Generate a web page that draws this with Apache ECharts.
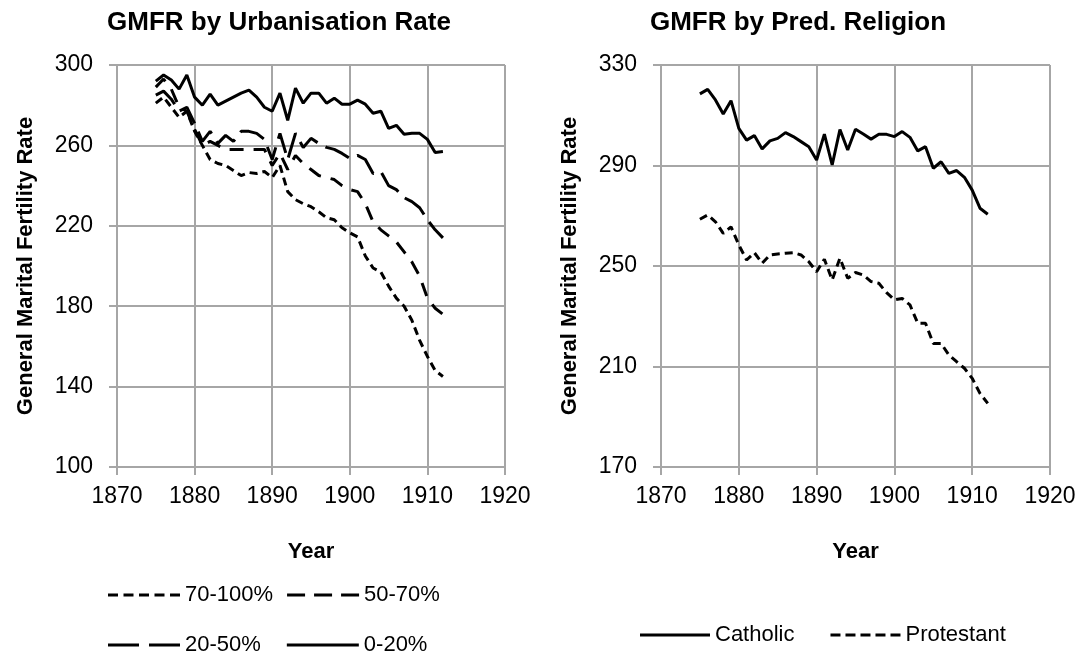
<!DOCTYPE html>
<html>
<head>
<meta charset="utf-8">
<title>GMFR</title>
<script src="https://cdn.jsdelivr.net/npm/echarts@6/dist/echarts.min.js"></script>
<style>
  html, body { margin: 0; padding: 0; background: #fff; }
  #chart { width: 1083px; height: 651px; }
</style>
</head>
<body>
<div id="chart"></div>
<script>
  // years shared by both panels
  var years = [1875, 1876, 1877, 1878, 1879, 1880, 1881, 1882, 1883, 1884,
    1885, 1886, 1887, 1888, 1889, 1890, 1891, 1892, 1893, 1894,
    1895, 1896, 1897, 1898, 1899, 1900, 1901, 1902, 1903, 1904,
    1905, 1906, 1907, 1908, 1909, 1910, 1911, 1912];

  // left panel: urbanisation groups
  var urb0_20 = [292, 295, 292.5, 288, 295, 284, 280, 285.5, 280, 282,
    284, 286, 287.5, 284, 279, 277, 286, 272.5, 288.5, 281,
    286, 286, 281, 283.5, 280.5, 280.5, 282.5, 280.5, 276, 277,
    268.5, 270, 265.5, 266, 266, 263, 256.5, 257];
  var urb20_50 = [285, 287, 283, 277, 279, 271, 262, 267, 261, 265,
    262, 267, 267, 266, 263, 253, 266, 253, 266, 259,
    263.5, 261, 259, 258, 256, 253.5, 255, 253, 246, 247,
    240, 238, 234, 232, 229, 223, 218, 214];
  var urb50_70 = [289, 293, 288, 279, 277, 268, 260, 262, 260, 258,
    258, 258, 258, 258, 258, 250, 256, 248, 255, 251,
    248, 245, 244, 243, 240, 238, 237, 231, 222, 218,
    215, 212, 207, 202, 195, 184, 179, 176];
  var urb70_100 = [281, 284, 279, 274, 277, 267, 260, 253, 251, 250,
    247.5, 245, 246.5, 246, 247, 244, 250, 237, 233, 231,
    229.5, 227, 224, 223, 219, 216.5, 214.5, 205, 199, 197,
    190, 184, 180, 173, 163, 155, 148, 145];

  // right panel: predominant religion
  var catholic = [318.5, 320.3, 316.1, 310.5, 315.8, 304.8, 300.1, 301.9, 296.6, 299.8,
    300.8, 303.1, 301.5, 299.5, 297.5, 292.2, 302.5, 290.2, 304.3, 296.2,
    304.4, 302.5, 300.5, 302.4, 302.4, 301.5, 303.5, 301.2, 295.8, 297.5,
    288.9, 291.5, 286.9, 288, 285.3, 280.2, 273, 270.6];
  var protestant = [268.6, 270.3, 267.6, 263, 265.6, 258.4, 252.4, 255.3, 251.1, 254.4,
    254.8, 255.1, 255.3, 254.4, 251.7, 247.7, 252.7, 244.4, 253.1, 245.1,
    247.4, 246.4, 243.8, 243.1, 239.4, 236.5, 237.1, 234.5, 227.2, 227.2,
    219.2, 219.2, 214.6, 211.9, 209.3, 205.3, 199.3, 195.3];

  var xTicks = [1870, 1880, 1890, 1900, 1910, 1920];
  var leftTicks = [100, 140, 180, 220, 260, 300];
  var rightTicks = [170, 210, 250, 290, 330];

  function pairs(vals) {
    var out = [];
    for (var i = 0; i < years.length; i++) {
      out.push([years[i], vals[i]]);
    }
    return out;
  }

  var FONT = 'Liberation Sans, Arial, sans-serif';
  var gridColor = '#a6a6a6';

  // line dash patterns, and the ones used for the legend samples
  var dashes = {
    '70-100%': [8, 5],
    '50-70%': [14, 10],
    '20-50%': [26, 9],
    '0-20%': null,
    'Catholic': null,
    'Protestant': [8, 5]
  };
  var iconDashes = {
    '70-100%': [10, 5.5],
    '50-70%': [18, 9],
    '20-50%': [31, 10],
    '0-20%': null,
    'Catholic': null,
    'Protestant': [10, 5]
  };

  // legend icon: a row of filled dashes in a w x 3 box
  function dashIcon(w, dash) {
    if (!dash) return 'path://M0,0h' + w + 'v3h-' + w + 'z';
    var p = '', x = 0;
    while (x < w - 0.5) {
      var len = Math.min(dash[0], w - x);
      p += 'M' + x + ',0h' + len + 'v3h-' + len + 'z';
      x += dash[0] + dash[1];
    }
    return 'path://' + p;
  }

  function xAxisCfg(gi) {
    return {
      type: 'value', gridIndex: gi,
      min: xTicks[0], max: xTicks[xTicks.length - 1], interval: 10,
      name: 'Year', nameLocation: 'middle', nameGap: 74,
      nameTextStyle: { fontFamily: FONT, fontSize: 22, fontWeight: 'bold', color: '#000' },
      axisLine: { show: true, onZero: false, lineStyle: { color: gridColor, width: 2 } },
      axisTick: { show: true, inside: false, length: 8, lineStyle: { color: gridColor, width: 2 } },
      axisLabel: { fontFamily: FONT, fontSize: 23, color: '#000', margin: 18,
        formatter: function (v) { return String(v); } },
      splitLine: { show: true, lineStyle: { color: gridColor, width: 2 } }
    };
  }

  function yAxisCfg(gi, ticks) {
    return {
      type: 'value', gridIndex: gi,
      min: ticks[0], max: ticks[ticks.length - 1], interval: 40,
      name: 'General Marital Fertility Rate', nameLocation: 'middle', nameGap: 80,
      nameRotate: 90,
      nameTextStyle: { fontFamily: FONT, fontSize: 22, fontWeight: 'bold', color: '#000' },
      axisLine: { show: true, lineStyle: { color: gridColor, width: 2 } },
      axisTick: { show: true, inside: false, length: 8, lineStyle: { color: gridColor, width: 2 } },
      axisLabel: { fontFamily: FONT, fontSize: 23, color: '#000', margin: 24 },
      splitLine: { show: true, lineStyle: { color: gridColor, width: 2 } }
    };
  }

  function lineSeries(name, gi, vals) {
    return {
      name: name, type: 'line', xAxisIndex: gi, yAxisIndex: gi,
      data: pairs(vals), symbol: 'none', showSymbol: false, smooth: false,
      lineStyle: { color: '#000', width: 3, type: dashes[name] || 'solid' },
      itemStyle: { color: '#000' }
    };
  }

  function legendItems(names, w) {
    return names.map(function (n) { return { name: n, icon: dashIcon(w, iconDashes[n]) }; });
  }

  var legendText = { fontFamily: FONT, fontSize: 22, color: '#000' };

  var myChart = echarts.init(document.getElementById('chart'));
  var option = {
    animation: false,
    backgroundColor: '#fff',
    title: [
      { text: 'GMFR by Urbanisation Rate', left: 274, top: 5, textAlign: 'center',
        textStyle: { fontFamily: FONT, fontSize: 26, fontWeight: 'bold', color: '#000' } },
      { text: 'GMFR by Pred. Religion', left: 793, top: 5, textAlign: 'center',
        textStyle: { fontFamily: FONT, fontSize: 26, fontWeight: 'bold', color: '#000' } }
    ],
    grid: [
      { left: 117, top: 65, width: 388, height: 402 },
      { left: 661, top: 65, width: 389, height: 402 }
    ],
    xAxis: [xAxisCfg(0), xAxisCfg(1)],
    yAxis: [yAxisCfg(0, leftTicks), yAxisCfg(1, rightTicks)],
    legend: [
      { data: legendItems(['70-100%', '50-70%'], 72), left: 103, top: 579, itemWidth: 72, itemHeight: 3,
        itemGap: 14, textStyle: legendText, selectedMode: false, itemStyle: { color: '#000' } },
      { data: legendItems(['20-50%', '0-20%'], 72), left: 103, top: 629, itemWidth: 72, itemHeight: 3,
        itemGap: 26, textStyle: legendText, selectedMode: false, itemStyle: { color: '#000' } },
      { data: legendItems(['Catholic', 'Protestant'], 70), left: 635, top: 619, itemWidth: 70, itemHeight: 3,
        itemGap: 36, textStyle: legendText, selectedMode: false, itemStyle: { color: '#000' } }
    ],
    series: [
      lineSeries('70-100%', 0, urb70_100),
      lineSeries('50-70%', 0, urb50_70),
      lineSeries('20-50%', 0, urb20_50),
      lineSeries('0-20%', 0, urb0_20),
      lineSeries('Catholic', 1, catholic),
      lineSeries('Protestant', 1, protestant)
    ]
  };
  myChart.setOption(option);
</script>
</body>
</html>
